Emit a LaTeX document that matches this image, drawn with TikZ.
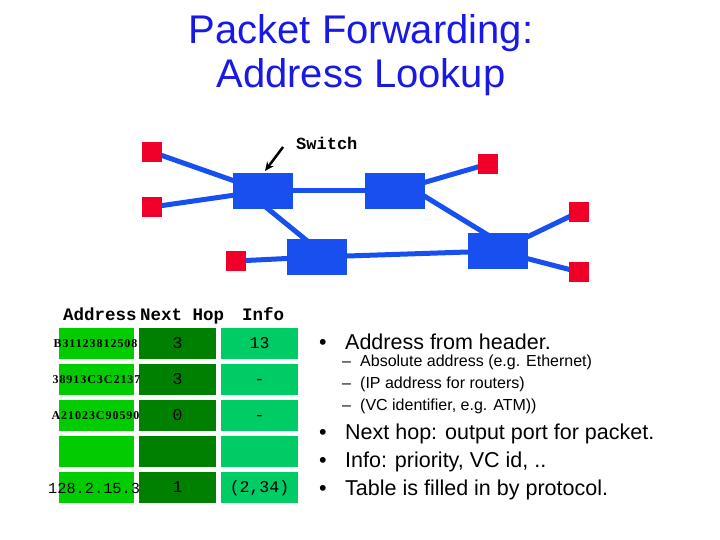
\documentclass[tikz,border=0pt]{standalone}
\usepackage{fontspec}
\setmainfont{Liberation Sans}
\newfontfamily\monofont{Liberation Mono}
\newfontfamily\addrfont[LetterSpace=8]{Liberation Serif}
\usetikzlibrary{arrows.meta}
\definecolor{titleblue}{RGB}{25,25,230}
\definecolor{netblue}{RGB}{24,80,240}
\definecolor{netred}{RGB}{240,0,40}
\definecolor{gA}{RGB}{0,204,0}
\definecolor{gB}{RGB}{0,128,0}
\definecolor{gC}{RGB}{0,204,102}
\tikzset{
  host/.style={fill=netred,draw=none,minimum width=19pt,minimum height=19pt,inner sep=0pt},
  switchbox/.style={fill=netblue,draw=none,minimum width=60pt,minimum height=36pt,inner sep=0pt},
  link/.style={draw=netblue,line width=5pt},
  cellA/.style={fill=gA,draw=none,minimum width=75pt,minimum height=31pt,inner sep=0pt},
  cellB/.style={fill=gB,draw=none,minimum width=77pt,minimum height=31pt,inner sep=0pt},
  cellC/.style={fill=gC,draw=none,minimum width=77pt,minimum height=31pt,inner sep=0pt},
  addr/.style={font=\addrfont\bfseries\fontsize{12}{14}\selectfont,inner sep=0pt},
  num/.style={font=\monofont\fontsize{16.5}{19}\selectfont,inner sep=0pt,anchor=base,yshift=-5pt},
  head/.style={font=\monofont\bfseries\fontsize{17.5}{20}\selectfont,inner sep=0pt,anchor=base west},
  bul/.style={font=\fontsize{21.5}{25}\selectfont,inner sep=0pt,anchor=base west},
  subbul/.style={font=\fontsize{16}{19}\selectfont,inner sep=0pt,anchor=base west},
}
\begin{document}
\begin{tikzpicture}[x=1pt,y=-1pt]
\useasboundingbox (0,0) rectangle (720,540);
% title
\node[text=titleblue,font=\fontsize{40}{48}\selectfont,inner sep=0pt,anchor=base] (t1) at (361,44) {Packet Forwarding:};
\node[text=titleblue,font=\fontsize{40}{48}\selectfont,inner sep=0pt,anchor=base] (t2) at (361,88) {Address Lookup};
% network nodes
\node[switchbox] (s1) at (263,191) {};
\node[switchbox] (s2) at (395,191) {};
\node[switchbox] (s3) at (317,257) {};
\node[switchbox] (s4) at (498,251) {};
\node[host] (h1) at (152,152) {};
\node[host] (h2) at (152,207) {};
\node[host] (h3) at (236,261) {};
\node[host] (h4) at (488,164) {};
\node[host] (h5) at (579,212) {};
\node[host] (h6) at (579,272) {};
% links (drawn then boxes redrawn on top)
\draw[link] (h1.center) -- (s1.center);
\draw[link] (h2.center) -- (s1.center);
\draw[link] (s1.center) -- (s2.center);
\draw[link] ([xshift=-17pt]s1.center) -- ([xshift=10pt]s3.center);
\draw[link] ([xshift=21pt]s2.center) -- ([xshift=16pt]s4.center);
\draw[link] (h3.center) -- (s3.center);
\draw[link] (s3.center) -- (s4.center);
\draw[link] (s2.center) -- (h4.center);
\draw[link] (s4.center) -- (h5.center);
\draw[link] (s4.center) -- (h6.center);
\foreach \n in {s1,s2,s3,s4}{\fill[netblue] (\n.north west) rectangle (\n.south east);}
\foreach \n in {h1,h2,h3,h4,h5,h6}{\fill[netred] (\n.north west) rectangle (\n.south east);}
% switch label
\node[font=\monofont\bfseries\fontsize{17}{20}\selectfont,inner sep=0pt,anchor=base west] (sw) at (296,150) {Switch};
\coordinate (arrS) at (283,147);
\draw[line width=2.5pt,-{Stealth[length=9pt,width=8pt]}] (arrS) -- (265,171);
% table headers
\node[head] (hA) at (63,320) {Address};
\node[head] (hB) at (140,320) {Next Hop};
\node[head] (hC) at (242,320) {Info};
% column 1
\foreach \r/\y in {1/343.5,2/379.5,3/415.5,4/451.5,5/487.5}{\node[cellA] (a\r) at (96.5,\y) {};}
\node[font=\monofont\fontsize{15.3}{18}\selectfont,inner sep=0pt,anchor=base west] (ta5) at (48,493) {128.2.15.3};
% column 2
\foreach \r/\y in {1/343.5,2/379.5,3/415.5,4/451.5,5/487.5}{\node[cellB] (b\r) at (177.5,\y) {};}
\node[num] (tb1) at (b1) {3};
\node[num] (tb2) at (b2) {3};
\node[num] (tb3) at (b3) {0};
\node[num] (tb5) at (b5) {1};
\node[addr] (ta1) at (95.5,344) {B31123812508};
\node[addr] (ta2) at (96.5,380) {38913C3C2137};
\node[addr] (ta3) at (95.5,416) {A21023C90590};
% column 3
\foreach \r/\y in {1/343.5,2/379.5,3/415.5,4/451.5,5/487.5}{\node[cellC] (c\r) at (259.5,\y) {};}
\node[num] (tc1) at (c1) {13};
\node[num] (tc2) at (c2) {-};
\node[num] (tc3) at (c3) {-};
\node[num] (tc5) at (c5) {(2,34)};
% bullets
\node[bul] (d1) at (319,349) {•};
\node[bul] (l1) at (345,349) {Address from header.};
\node[subbul] (e2) at (342,366) {–};
\node[subbul] (l2) at (360,366) {Absolute address (e.g. Ethernet)};
\node[subbul] (e3) at (342,388) {–};
\node[subbul] (l3) at (360,388) {(IP address for routers)};
\node[subbul] (e4) at (342,410) {–};
\node[subbul] (l4) at (360,410) {(VC identifier, e.g. ATM))};
\node[bul] (d5) at (319,439) {•};
\node[bul] (l5) at (345,439) {Next hop: output port for packet.};
\node[bul] (d6) at (319,467) {•};
\node[bul] (l6) at (345,467) {Info: priority, VC id, ..};
\node[bul] (d7) at (319,495) {•};
\node[bul] (l7) at (345,495) {Table is filled in by protocol.};
\end{tikzpicture}
\end{document}
